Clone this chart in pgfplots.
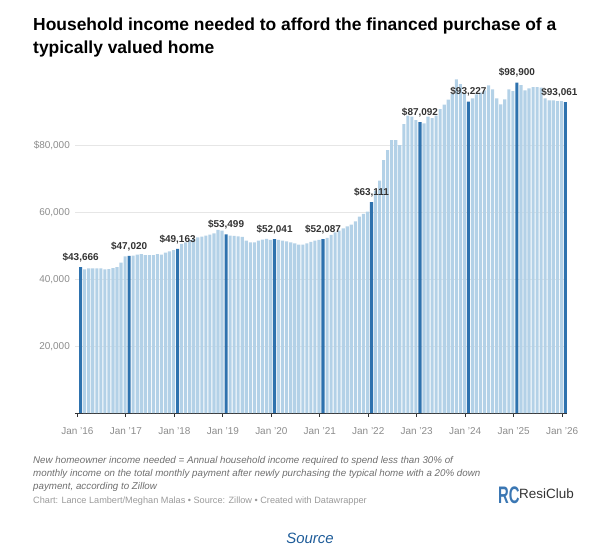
\documentclass[border=0pt]{standalone}
\usepackage{fontspec}
\setmainfont{Liberation Sans}
\usepackage{pgfplots}
\pgfplotsset{compat=1.18}
\usepackage{pgfplotstable}
\usepackage{graphicx}
\definecolor{lightbar}{HTML}{B3D1E7}
\definecolor{darkbar}{HTML}{2E72AE}
\definecolor{labelcol}{HTML}{333333}
\definecolor{tickcol}{HTML}{8C8C8C}
\definecolor{gridcol}{HTML}{E6E6E6}
\definecolor{notecol}{HTML}{6E6E6E}
\definecolor{chartcol}{HTML}{9A9A9A}
\definecolor{srcblue}{HTML}{1E5C99}
\definecolor{logoblue}{HTML}{3B77B3}

\pgfplotstableread{
idx val
1 43000
2 43300
3 43300
4 43300
5 43300
6 43000
7 43100
8 43400
9 43700
10 45000
11 46900
13 47100
14 47400
15 47600
16 47300
17 47300
18 47300
19 47600
20 47400
21 48000
22 48400
23 48800
25 50600
26 51100
27 51800
28 52100
29 52600
30 52800
31 53100
32 53400
33 53800
34 54800
35 54600
37 53100
38 53000
39 52900
40 52700
41 51600
42 51100
43 51100
44 51600
45 51900
46 52100
47 51800
49 51800
50 51600
51 51400
52 51100
53 50800
54 50400
55 50400
56 50800
57 51200
58 51600
59 51800
61 52400
62 53300
63 54100
64 54600
65 55300
66 55900
67 56400
68 57400
69 58800
70 59600
71 60300
73 66600
74 69600
75 75700
76 78700
77 81700
78 81700
79 80200
80 86500
81 89000
82 88700
83 87700
85 86700
86 88700
87 88300
88 89000
89 91000
90 92300
91 93800
92 95600
93 99900
94 98500
95 95500
97 94200
98 95400
99 95900
100 96600
101 98100
102 96900
103 94200
104 92400
105 93900
106 96900
107 96400
109 98200
110 96600
111 97200
112 97600
113 97600
114 97400
115 94200
116 93600
117 93600
118 93400
119 93400
}\lightdata

\pgfplotstableread{
idx val
0 43666
12 47020
24 49163
36 53499
48 52041
60 52087
72 63111
84 87092
96 93227
108 98900
120 93061
}\darkdata

\begin{document}
\begin{tikzpicture}
\useasboundingbox (-75bp,-144bp) rectangle (530bp,413bp);
\begin{axis}[
  at={(0,0)}, anchor=south west,
  scale only axis,
  width=492bp, height=334bp,
  xmin=-1.4, xmax=120.4,
  ymin=0, ymax=100000,
  scaled y ticks=false,
  clip=false,
  axis lines*=left,
  y axis line style={draw=none},
  x axis line style={draw=labelcol, line width=0.9bp},
  tick align=outside,
  major tick length=4bp,
  xtick={-0.8,11.2,23.2,35.2,47.2,59.2,71.2,83.2,95.2,107.2,119.2},
  xticklabels={Jan ’16,Jan ’17,Jan ’18,Jan ’19,Jan ’20,Jan ’21,Jan ’22,Jan ’23,Jan ’24,Jan ’25,Jan ’26},
  xtick style={draw=labelcol, line width=0.8bp},
  xticklabel style={font=\fontsize{10}{12}\selectfont, text=tickcol, inner sep=0pt, anchor=north, yshift=-10bp},
  ytick={20000,40000,60000,80000},
  yticklabels={20{,}000,40{,}000,60{,}000,\$80{,}000},
  ytick style={draw=none},
  yticklabel style={font=\fontsize{10}{12}\selectfont, text=tickcol, inner sep=0pt, anchor=east, xshift=-1bp},
  ymajorgrids,
  grid style={draw=gridcol, line width=0.6bp},
  /pgf/number format/assume math mode=true,
]
\addplot[ybar, bar width=3.1bp, bar shift=0pt, fill=lightbar, draw=none] table[x=idx, y=val] {\lightdata};
\addplot[ybar, bar width=3.1bp, bar shift=0pt, fill=darkbar, draw=none,
  point meta=y,
  nodes near coords={\$\pgfmathprintnumber[fixed,precision=0,1000 sep={,}]{\pgfplotspointmeta}\ifnum\coordindex=10 \hspace*{12bp}\fi},
  every node near coord/.append style={font=\bfseries\fontsize{10}{12}\selectfont, text=labelcol, inner sep=0pt, anchor=south, yshift=5bp}
] table[x=idx, y=val] {\darkdata};
\end{axis}
% title
\node[anchor=base west, inner sep=0pt, font=\bfseries\fontsize{17.5}{20}\selectfont, text=black] at (-42bp,382bp) {Household income needed to afford the financed purchase of a};
\node[anchor=base west, inner sep=0pt, font=\bfseries\fontsize{17.5}{20}\selectfont, text=black] at (-42bp,359.5bp) {typically valued home};
% notes
\node[anchor=base west, inner sep=0pt, font=\itshape\fontsize{9.8}{12}\selectfont, text=notecol] at (-42bp,-50bp) {New homeowner income needed = Annual household income required to spend less than 30\% of};
\node[anchor=base west, inner sep=0pt, font=\itshape\fontsize{9.8}{12}\selectfont, text=notecol] at (-42bp,-63bp) {monthly income on the total monthly payment after newly purchasing the typical home with a 20\% down};
\node[anchor=base west, inner sep=0pt, font=\itshape\fontsize{9.8}{12}\selectfont, text=notecol] at (-42bp,-76bp) {payment, according to Zillow};
\node[anchor=base west, inner sep=0pt, font=\fontsize{9.2}{11}\selectfont, text=chartcol] at (-42bp,-90bp) {Chart: Lance Lambert/Meghan Malas • Source: Zillow • Created with Datawrapper};
% logo
\node[anchor=base west, inner sep=0pt, text=logoblue] at (423bp,-90bp) {\scalebox{0.62}[1]{\bfseries\fontsize{24}{24}\selectfont RC}};
\node[anchor=base west, inner sep=0pt, font=\fontsize{13.5}{15}\selectfont, text=labelcol] at (444bp,-85bp) {ResiClub};
% source
\node[anchor=center, inner sep=0pt, font=\itshape\fontsize{15}{18}\selectfont, text=srcblue] at (235bp,-125bp) {Source};
\end{tikzpicture}
\end{document}
